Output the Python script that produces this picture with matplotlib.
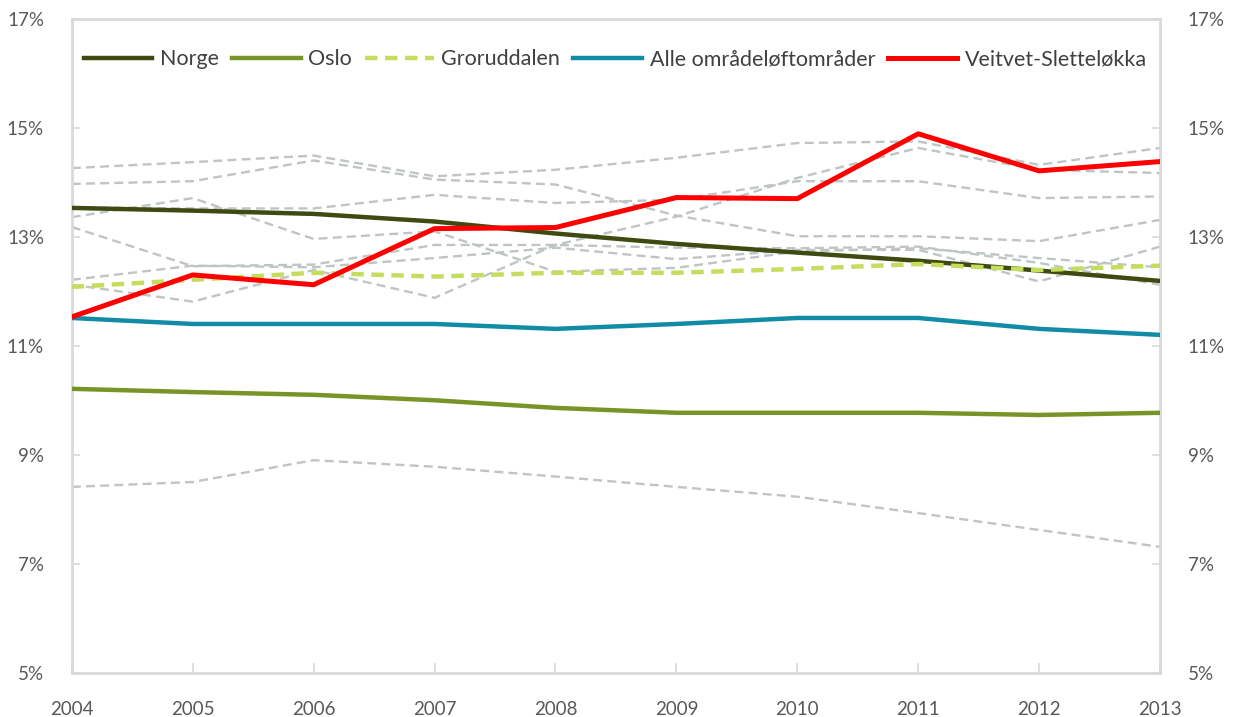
import matplotlib
matplotlib.use("Agg")
import matplotlib.pyplot as plt

plt.rcParams["font.family"] = ["Lato", "DejaVu Sans"]

years = [2004, 2005, 2006, 2007, 2008, 2009, 2010, 2011, 2012, 2013]

norge = [13.54, 13.49, 13.43, 13.29, 13.07, 12.88, 12.72, 12.57, 12.39, 12.20]
oslo = [10.22, 10.16, 10.11, 10.01, 9.87, 9.78, 9.78, 9.78, 9.74, 9.78]
groruddalen = [12.09, 12.22, 12.35, 12.28, 12.35, 12.35, 12.42, 12.51, 12.40, 12.48]
alle_omrader = [11.52, 11.41, 11.41, 11.41, 11.32, 11.41, 11.52, 11.52, 11.32, 11.21]
veitvet = [11.54, 12.31, 12.13, 13.16, 13.18, 13.73, 13.71, 14.90, 14.22, 14.39]

# other areas (grey dashed background lines)
others = [
    [14.27, 14.38, 14.50, 14.12, 14.24, 14.46, 14.73, 14.76, 14.33, 14.64],
    [13.98, 14.03, 14.41, 14.06, 13.97, 13.40, 13.02, 13.02, 12.93, 13.32],
    [13.55, 13.53, 13.53, 13.78, 13.63, 13.69, 14.03, 14.03, 13.72, 13.75],
    [13.37, 13.72, 12.97, 13.11, 12.37, 12.44, 12.74, 12.80, 12.62, 12.45],
    [13.19, 12.47, 12.50, 12.86, 12.86, 12.81, 12.80, 12.83, 12.53, 12.13],
    [12.22, 12.48, 12.45, 12.62, 12.81, 12.60, 12.77, 12.77, 12.19, 12.83],
    [12.13, 11.82, 12.40, 11.89, 12.86, 13.38, 14.09, 14.64, 14.24, 14.18],
    [8.42, 8.51, 8.91, 8.79, 8.61, 8.42, 8.24, 7.94, 7.63, 7.32],
]

y_ticks = [5, 7, 9, 11, 13, 15, 17]

fig = plt.figure(figsize=(12.38, 7.17), dpi=100)
ax = fig.add_axes([0.058, 0.061, 0.879, 0.912])

for vals in others:
    ax.plot(years, vals, color="#bfc5c3", lw=1.7, ls=(0, (3.8, 2.2)), zorder=1)

ax.plot(years, norge, color="#3e4a10", lw=3.2, label="Norge", zorder=3)
ax.plot(years, oslo, color="#789428", lw=3.2, label="Oslo", zorder=3)
ax.plot(years, groruddalen, color="#c5dd5c", lw=3.2, ls=(0, (2.8, 1.7)),
        label="Groruddalen", zorder=3)
ax.plot(years, alle_omrader, color="#118ca6", lw=3.2,
        label="Alle områdeløftområder", zorder=3)
ax.plot(years, veitvet, color="#ff0000", lw=3.6, label="Veitvet-Sletteløkka", zorder=4)

ax.set_xlim(years[0], years[-1])
ax.set_ylim(5, 17)
ax.set_xticks(years)
ax.set_yticks(y_ticks)
ax.set_yticklabels([f"{v}%" for v in y_ticks])

for spine in ax.spines.values():
    spine.set_color("#d9d9d9")
    spine.set_linewidth(2)

ax.tick_params(axis="x", direction="in", length=7, width=1.2, color="#d9d9d9",
               pad=20, labelsize=13.5, labelcolor="#595959")
ax.tick_params(axis="y", direction="in", length=6, width=1.2, color="#d9d9d9",
               pad=20, labelsize=13.5, labelcolor="#595959")

ax2 = ax.twinx()
ax2.set_ylim(5, 17)
ax2.set_yticks(y_ticks)
ax2.set_yticklabels([f"{v}%" for v in y_ticks])
for spine in ax2.spines.values():
    spine.set_visible(False)
ax2.tick_params(axis="y", direction="in", length=6, width=1.2, color="#d9d9d9",
                pad=20, labelsize=13.5, labelcolor="#595959")

leg = ax.legend(loc="upper left", bbox_to_anchor=(-0.003, 0.977), ncol=5,
                frameon=False, fontsize=15.5, handlelength=3.2,
                handletextpad=0.35, columnspacing=0.6, borderaxespad=0.3)
for t in leg.get_texts():
    t.set_color("#404040")

fig.savefig("out.png", dpi=100)
